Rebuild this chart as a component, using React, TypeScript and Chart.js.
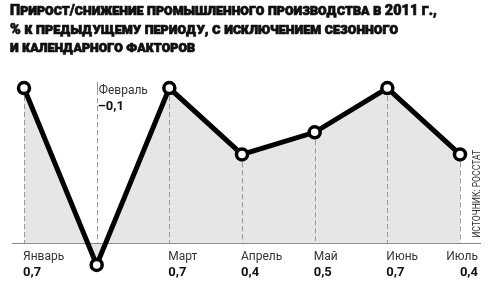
import React, { useEffect, useRef } from 'react';
import { Chart, registerables } from 'chart.js';
Chart.register(...registerables);

const months = ['Январь', 'Февраль', 'Март', 'Апрель', 'Май', 'Июнь', 'Июль'];
const values = [0.7, -0.1, 0.7, 0.4, 0.5, 0.7, 0.4];
const valueLabels = ['0,7', '–0,1', '0,7', '0,4', '0,5', '0,7', '0,4'];
const titleLines = [
  'Прирост/снижение промышленного производства в 2011 г.,',
  '% к предыдущему периоду, с исключением сезонного',
  'и календарного факторов',
];
const titleWidths = [427, 388, 185];
const sourceText = 'ИСТОЧНИК: РОССТАТ';

const FONT = 'Roboto, "DejaVu Sans", sans-serif';

const decor = {
  id: 'decor',
  beforeDatasetsDraw(chart: any) {
    const { ctx } = chart;
    const xs = chart.scales.x;
    const ys = chart.scales.y;
    const y0 = Math.round(ys.getPixelForValue(0)) + 0.5;
    const left = xs.getPixelForValue(0) - 12;
    const right = xs.getPixelForValue(values.length - 1) + 21;
    const topMax = ys.getPixelForValue(Math.max(...values));
    ctx.save();
    ctx.strokeStyle = '#8a8a8a';
    ctx.lineWidth = 1;
    ctx.beginPath();
    ctx.moveTo(left, y0);
    ctx.lineTo(right, y0);
    ctx.stroke();
    ctx.strokeStyle = '#999999';
    values.forEach((v, i) => {
      const px = Math.round(xs.getPixelForValue(i)) + 0.5;
      if (v < 0) {
        ctx.setLineDash([]);
        ctx.beginPath();
        ctx.moveTo(px, topMax - 6);
        ctx.lineTo(px, topMax + 2);
        ctx.stroke();
      }
      ctx.setLineDash([5, 3]);
      const top = v < 0 ? topMax + 2 : ys.getPixelForValue(v);
      ctx.beginPath();
      ctx.moveTo(px, top);
      ctx.lineTo(px, y0);
      ctx.stroke();
    });
    ctx.restore();
  },
  afterDatasetsDraw(chart: any) {
    const { ctx } = chart;
    const xs = chart.scales.x;
    const ys = chart.scales.y;
    const y0 = ys.getPixelForValue(0);
    const topMax = ys.getPixelForValue(Math.max(...values));
    ctx.save();
    ctx.textBaseline = 'middle';
    values.forEach((v, i) => {
      const px = xs.getPixelForValue(i);
      const last = i === values.length - 1;
      ctx.textAlign = last ? 'right' : 'left';
      const tx = last ? px + 18 : px - 1;
      if (v < 0) {
        ctx.textAlign = 'left';
        ctx.fillStyle = '#333';
        ctx.font = `12px ${FONT}`;
        ctx.fillText(months[i], px + 2, topMax + 3);
        ctx.fillStyle = '#111';
        ctx.font = `bold 13px ${FONT}`;
        ctx.fillText(valueLabels[i], px + 1, topMax + 19);
      } else {
        ctx.fillStyle = '#333';
        ctx.font = `12px ${FONT}`;
        ctx.fillText(months[i], tx, y0 + 14);
        ctx.fillStyle = '#111';
        ctx.font = `bold 13px ${FONT}`;
        ctx.fillText(valueLabels[i], tx, y0 + 30);
      }
    });
    // source
    ctx.save();
    ctx.translate(xs.getPixelForValue(values.length - 1) + 17, y0 - 5);
    ctx.rotate(-Math.PI / 2);
    ctx.textAlign = 'left';
    ctx.fillStyle = '#333';
    ctx.font = `10px ${FONT}`;
    const sw = ctx.measureText(sourceText).width;
    ctx.scale(88 / sw, 1);
    ctx.fillText(sourceText, 0, 0);
    ctx.restore();
    // title
    ctx.fillStyle = '#111';
    ctx.strokeStyle = '#111';
    ctx.lineWidth = 0.7;
    ctx.lineJoin = 'round';
    ctx.textAlign = 'left';
    ctx.textBaseline = 'alphabetic';
    ctx.font = `900 15px ${FONT}`;
    try { (ctx as any).fontVariantCaps = 'small-caps'; } catch (e) {}
    titleLines.forEach((line, i) => {
      const w = ctx.measureText(line).width;
      const sx = titleWidths[i] / w;
      ctx.save();
      ctx.translate(10, 15 + i * 18.5);
      ctx.scale(sx, 1);
      ctx.fillText(line, 0, 0);
      ctx.strokeText(line, 0, 0);
      ctx.restore();
    });
    ctx.restore();
  },
};

export default function App() {
  const ref = useRef<HTMLCanvasElement | null>(null);
  useEffect(() => {
    if (!ref.current) return;
    const chart = new Chart(ref.current, {
      type: 'line',
      data: {
        labels: months,
        datasets: [
          {
            data: values,
            borderColor: '#000',
            borderWidth: 5,
            pointRadius: 5.5,
            pointBorderWidth: 3.5,
            pointBackgroundColor: '#fff',
            pointBorderColor: '#000',
            fill: 'origin',
            backgroundColor: '#e6e6e6',
            tension: 0,
            clip: false as any,
          },
        ],
      },
      options: {
        animation: false,
        responsive: false,
        maintainAspectRatio: false,
        layout: { padding: { left: 24, right: 40, top: 77, bottom: 12 } },
        scales: {
          x: { display: false, offset: false },
          y: { display: false, min: -0.15, max: 0.75 },
        },
        plugins: {
          legend: { display: false },
          tooltip: { enabled: false },
          title: { display: false },
          filler: { drawTime: 'beforeDatasetsDraw' },
        } as any,
      },
      plugins: [decor],
    });
    return () => chart.destroy();
  }, []);
  return (
    <div style={{ position: 'fixed', left: 0, top: 0, width: 500, height: 288, background: '#fff' }}>
      <canvas ref={ref} width={500} height={288} style={{ display: 'block' }} />
    </div>
  );
}
